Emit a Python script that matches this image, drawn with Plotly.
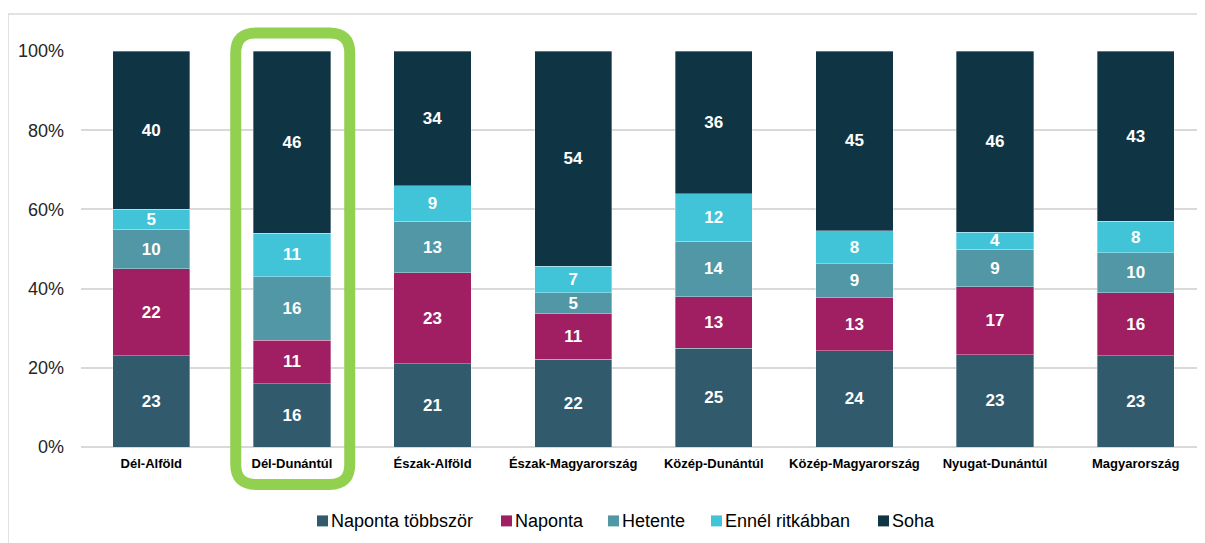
import plotly.graph_objects as go

# ---- data (values read from segment boundaries; labels are the rounded values) ----
categories = ["Dél-Alföld", "Dél-Dunántúl", "Észak-Alföld", "Észak-Magyarország",
              "Közép-Dunántúl", "Közép-Magyarország", "Nyugat-Dunántúl", "Magyarország"]
series_names = ["Naponta többször", "Naponta", "Hetente", "Ennél ritkábban", "Soha"]
naponta_tobbszor = [23, 16, 21, 22.2, 25, 24.3, 23.3, 23]
naponta = [22, 11, 23, 11.4, 13, 13.4, 17.2, 16]
hetente = [10, 16, 13, 5.3, 14, 8.6, 9.4, 10]
ennel_ritkabban = [5, 11, 9, 6.8, 12, 8.3, 4.3, 8]
soha = [40, 46, 34, 54.3, 36, 45.4, 45.8, 43]
y_tick_values = [0, 20, 40, 60, 80, 100]
y_tick_labels = ["0%", "20%", "40%", "60%", "80%", "100%"]
highlight_category = "Dél-Dunántúl"

colors = ["#315B6D", "#A01F62", "#5297A5", "#41C4D8", "#0F3545"]
series_values = [naponta_tobbszor, naponta, hetente, ennel_ritkabban, soha]

# ---- geometry: window pixels; the page body has an 8px margin ----
OFF = 8
W, H = 1205, 543
ML = 81 - OFF
MT = 51 - OFF
PLOT_RIGHT = 1206 - OFF
PLOT_BOTTOM = 447.5 - OFF
MR = W - PLOT_RIGHT
MB = H - PLOT_BOTTOM
PW, PH = W - ML - MR, H - MT - MB
FONT = "Arial, 'Liberation Sans', sans-serif"

def px_x(p):  # window pixel -> paper
    return (p - OFF - ML) / PW

def px_y(p):
    return (H - MB - (p - OFF)) / PH

fig = go.Figure()
for name, vals, col in zip(series_names, series_values, colors):
    fig.add_trace(go.Bar(
        x=categories, y=vals, name=name,
        marker=dict(color=col, line=dict(color="rgba(255,255,255,0.55)", width=0.6)),
        text=[f"{v:.0f}" for v in vals], textposition="inside",
        insidetextanchor="middle", textangle=0,
        textfont=dict(family=FONT, size=17, color="white", weight="bold"),
        hoverinfo="skip", showlegend=False,
    ))

fig.update_layout(
    width=W, height=H, autosize=False,
    margin=dict(l=ML, r=MR, t=MT, b=MB),
    barmode="stack", barnorm="percent", bargap=0.45,
    plot_bgcolor="white", paper_bgcolor="white",
    uniformtext=dict(minsize=17, mode="show"),
    font=dict(family=FONT, color="#262626"),
)
fig.update_xaxes(
    type="category", showgrid=False, showline=False, zeroline=False,
    ticks="", tickfont=dict(family=FONT, size=13, color="black", weight="bold"),
    ticklabelstandoff=7,
)
fig.update_yaxes(
    range=[0, 100], tickmode="array", tickvals=y_tick_values, ticktext=y_tick_labels,
    showgrid=True, gridcolor="#D9D9D9", gridwidth=1.5,
    zeroline=True, zerolinecolor="#D9D9D9", zerolinewidth=1.5,
    showline=False, ticks="", ticklabelstandoff=16,
    tickfont=dict(family=FONT, size=18, color="#262626"),
)

# outer chart border
fig.add_shape(type="rect", xref="paper", yref="paper",
              x0=px_x(8), x1=px_x(1230), y0=px_y(570), y1=px_y(14),
              line=dict(color="#D9D9D9", width=1.5), layer="below")

# green rounded highlight around the highlighted category
idx = categories.index(highlight_category)
cat_w = PW / len(categories)
cx = OFF + ML + (idx + 0.5) * cat_w + 0.8
hx = 57
x0p, x1p, y0p, y1p, r = cx - hx, cx + hx, 33, 485, 20
def P(x, y):
    return f"{px_x(x):.5f},{px_y(y):.5f}"
path = (f"M {P(x0p + r, y0p)} L {P(x1p - r, y0p)} Q {P(x1p, y0p)} {P(x1p, y0p + r)} "
        f"L {P(x1p, y1p - r)} Q {P(x1p, y1p)} {P(x1p - r, y1p)} "
        f"L {P(x0p + r, y1p)} Q {P(x0p, y1p)} {P(x0p, y1p - r)} "
        f"L {P(x0p, y0p + r)} Q {P(x0p, y0p)} {P(x0p + r, y0p)} Z")
fig.add_shape(type="path", xref="paper", yref="paper", path=path,
              line=dict(color="#92D050", width=11), layer="above")

# legend: coloured squares + labels
legend_x = [317, 501, 608, 711, 878]
LEG_Y = 521.5
SQ = 11
for lx, name, col in zip(legend_x, series_names, colors):
    fig.add_shape(type="rect", xref="paper", yref="paper",
                  x0=px_x(lx), x1=px_x(lx + SQ),
                  y0=px_y(LEG_Y + SQ / 2), y1=px_y(LEG_Y - SQ / 2),
                  fillcolor=col, line=dict(width=0))
    fig.add_annotation(
        xref="paper", yref="paper", x=px_x(lx + SQ + 1), y=px_y(LEG_Y),
        xanchor="left", yanchor="middle", showarrow=False,
        text=name, font=dict(family=FONT, size=18, color="black"),
    )

fig.write_html("out.html")
